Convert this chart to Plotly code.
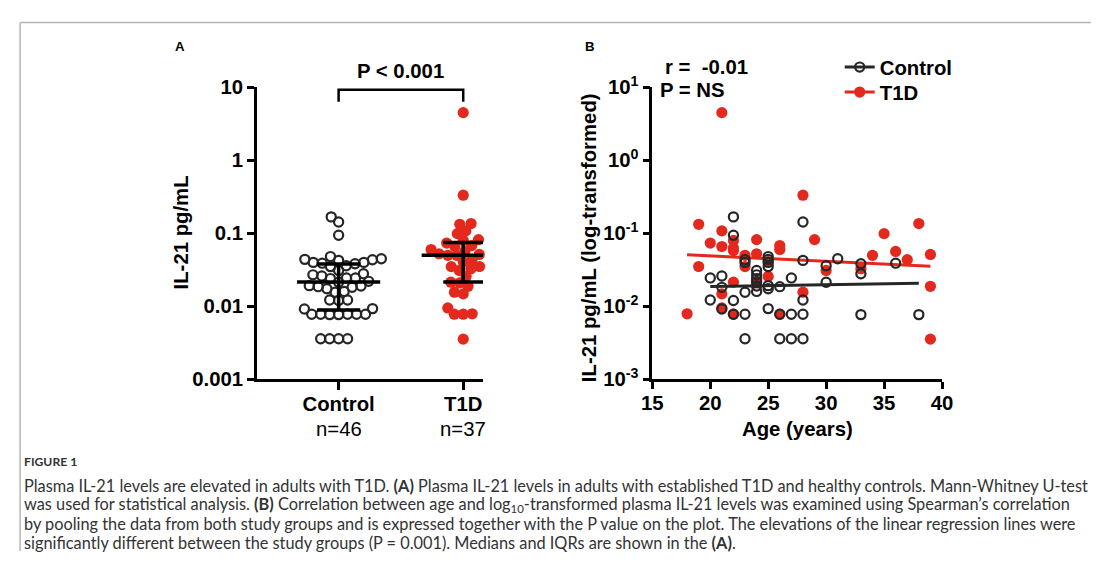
import numpy as np
import plotly.graph_objects as go

# Figure size (the page keeps the browser's 8px body margin).
BODY = 8
W, H = 1110 - 2 * BODY, 570 - 2 * BODY
# Observed mapping from page pixels to the returned picture (picture = O + S * page);
# every layout position below is written in reference-picture pixels and mapped back.
OX, OY, SX, SY = 9.5, 14.0, 0.983, 0.955

# ---------------- data ----------------
groups = ["Control", "T1D"]
group_n = [46, 37]

control_age = [20, 20, 21, 21, 21, 22, 22, 22, 22, 23, 23, 23, 23, 24, 24, 24, 24,
               25, 25, 25, 25, 25, 26, 26, 26, 27, 27, 27, 28, 28, 28, 28, 28,
               30, 30, 31, 33, 33, 33, 36, 38, 24, 25, 25, 24, 23]
control_il21 = [0.0245, 0.0122, 0.026, 0.0182, 0.0092, 0.168, 0.094, 0.012, 0.0078,
                0.0435, 0.0156, 0.0078, 0.0036, 0.031, 0.022, 0.019, 0.016,
                0.048, 0.040, 0.0192, 0.0174, 0.0093, 0.0186, 0.0078, 0.0036,
                0.0245, 0.0078, 0.0036, 0.143, 0.0426, 0.0122, 0.0078, 0.0036,
                0.036, 0.0214, 0.0449, 0.0383, 0.0279, 0.0077, 0.039, 0.0077,
                0.027, 0.044, 0.035, 0.024, 0.040]

t1d_age = [18, 19, 19, 20, 21, 21, 21, 21, 21, 22, 22, 22, 22, 22, 23, 23, 24, 24, 24,
           25, 26, 26, 26, 28, 28, 29, 30, 33, 34, 35, 36, 37, 38, 39, 39, 39, 25]
t1d_il21 = [0.0079, 0.133, 0.0351, 0.0736, 4.5, 0.108, 0.066, 0.0148, 0.0095,
            0.080, 0.063, 0.058, 0.0214, 0.0078, 0.050, 0.035, 0.082, 0.0525, 0.021,
            0.0257, 0.068, 0.060, 0.0078, 0.333, 0.0156, 0.082, 0.031, 0.0327,
            0.050, 0.099, 0.0565, 0.0435, 0.136, 0.0514, 0.0188, 0.00355, 0.041]

median_il21 = [0.0215, 0.050]
q1_il21 = [0.0089, 0.0215]
q3_il21 = [0.038, 0.075]

reg_control_age = [20, 38]
reg_control_il21 = [0.0187, 0.0207]
reg_t1d_age = [18, 39]
reg_t1d_il21 = [0.0508, 0.0355]

bracket_il21 = [6.35, 9.27]

ytick_vals = [0.001, 0.01, 0.1, 1, 10]
ytick_text_a = ["0.001", "0.01", "0.1", "1", "10"]
ytick_text_b = ["10<sup>-3</sup>", "10<sup>-2</sup>", "10<sup>-1</sup>", "10<sup>0</sup>", "10<sup>1</sup>"]
minor_mult = [2, 3, 4, 5, 6, 7, 8, 9]
minor_decades = [-3, -2, -1, 0]
xtick_vals_b = [15, 20, 25, 30, 35, 40]

caption_title = "FIGURE 1"
caption_lines = [
    "Plasma IL-21 levels are elevated in adults with T1D. <b>(A)</b> Plasma IL-21 levels in adults with established T1D and healthy controls. Mann-Whitney U-test",
    "was used for statistical analysis. <b>(B)</b> Correlation between age and log<sub>10</sub>-transformed plasma IL-21 levels was examined using Spearman\u2019s correlation",
    "by pooling the data from both study groups and is expressed together with the P value on the plot. The elevations of the linear regression lines were",
    "significantly different between the study groups (P = 0.001). Medians and IQRs are shown in the <b>(A)</b>.",
]

# ---------------- styling / layout constants ----------------
FONT = "Liberation Sans, Arial, sans-serif"
CAP_FONT = "Lato, Liberation Sans, sans-serif"
DARK = "#262626"
RED = "#e3291d"
FS = 1.0 / SX          # font / marker compensation


def xp(s):
    return ((s - OX) / SX - BODY) / W


def yp(s):
    return 1 - ((s - OY) / SY - BODY) / H


Y_TOP, Y_BOT = 87, 379
YDOM = [yp(Y_BOT), yp(Y_TOP)]
PX_DEC = (Y_BOT - Y_TOP) / 4.0

A_X0, A_X1 = 256, 483
A_C0, A_C1 = 338, 463
A_PX_UNIT = A_C1 - A_C0
A_RANGE = [-(A_C0 - A_X0) / A_PX_UNIT, 1 + (A_X1 - A_C1) / A_PX_UNIT]

B_X0, B_X1 = 652.7, 943.3


def swarm_offsets(values, d):
    y = np.log10(np.asarray(values, dtype=float)) * PX_DEC
    idx = np.argsort(y)
    px, py = [], []
    out = np.zeros(len(y))
    for i in idx:
        yi = y[i]
        cands = [0.0]
        for xj, yj in zip(px, py):
            dy = abs(yi - yj)
            if dy < d:
                dx = np.sqrt(d * d - dy * dy)
                cands += [xj - dx, xj + dx]
        cands.sort(key=lambda c: (abs(c), c))
        for c in cands:
            if all((c - xj) ** 2 + (yi - yj) ** 2 >= d * d - 1e-6 for xj, yj in zip(px, py)):
                out[i] = c
                break
        px.append(out[i])
        py.append(yi)
    return out


fig = go.Figure()

# ---------------- panel A ----------------
d_sw = 9.0
ctrl_x = 0 + swarm_offsets(control_il21, d_sw) / A_PX_UNIT
t1d_x = 1 + swarm_offsets(t1d_il21, d_sw) / A_PX_UNIT

open_marker = dict(symbol="circle-open", size=9 * FS, color=DARK, line=dict(width=2.2, color=DARK))
fill_marker = dict(symbol="circle", size=11 * FS, color=RED)

fig.add_trace(go.Scatter(x=ctrl_x, y=control_il21, mode="markers", xaxis="x", yaxis="y",
                         marker=open_marker, showlegend=False, cliponaxis=False, hoverinfo="skip"))
fig.add_trace(go.Scatter(x=t1d_x, y=t1d_il21, mode="markers", xaxis="x", yaxis="y",
                         marker=fill_marker, showlegend=False, cliponaxis=False, hoverinfo="skip"))

med_half = 41.7 / A_PX_UNIT
cap_half = [21.7 / A_PX_UNIT, 20.0 / A_PX_UNIT]
for i in range(2):
    for xs, ys in [([i - med_half, i + med_half], [median_il21[i]] * 2),
                   ([i - cap_half[i], i + cap_half[i]], [q1_il21[i]] * 2),
                   ([i - cap_half[i], i + cap_half[i]], [q3_il21[i]] * 2),
                   ([i, i], [q1_il21[i], q3_il21[i]])]:
        fig.add_trace(go.Scatter(x=xs, y=ys, mode="lines", xaxis="x", yaxis="y",
                                 line=dict(color="black", width=3.5), showlegend=False,
                                 hoverinfo="skip", cliponaxis=False))

fig.add_trace(go.Scatter(x=[0, 0, 1, 1], y=[bracket_il21[0], bracket_il21[1], bracket_il21[1], bracket_il21[0]],
                         mode="lines", xaxis="x", yaxis="y", line=dict(color="black", width=2.5),
                         showlegend=False, hoverinfo="skip"))

# ---------------- panel B ----------------
fig.add_trace(go.Scatter(x=t1d_age, y=t1d_il21, mode="markers", xaxis="x2", yaxis="y2",
                         marker=fill_marker, showlegend=False, cliponaxis=False, hoverinfo="skip"))
fig.add_trace(go.Scatter(x=reg_t1d_age, y=reg_t1d_il21, mode="lines", xaxis="x2", yaxis="y2",
                         line=dict(color=RED, width=3), showlegend=False, hoverinfo="skip"))
fig.add_trace(go.Scatter(x=control_age, y=control_il21, mode="markers", xaxis="x2", yaxis="y2",
                         marker=open_marker, showlegend=False, cliponaxis=False, hoverinfo="skip"))
fig.add_trace(go.Scatter(x=reg_control_age, y=reg_control_il21, mode="lines", xaxis="x2", yaxis="y2",
                         line=dict(color=DARK, width=3), showlegend=False, hoverinfo="skip"))

# legend entries (one legend each so their positions can be matched)
fig.add_trace(go.Scatter(x=[None], y=[None], mode="lines+markers", name="Control", xaxis="x2", yaxis="y2",
                         line=dict(color=DARK, width=3), marker=open_marker, legend="legend"))
fig.add_trace(go.Scatter(x=[None], y=[None], mode="lines+markers", name="T1D", xaxis="x2", yaxis="y2",
                         line=dict(color=RED, width=3), marker=fill_marker, legend="legend2"))

tick_font = dict(family=FONT, size=20 * FS, color="black", weight="bold")
axis_common = dict(showline=True, linewidth=2.5, linecolor="black", ticks="outside", tickwidth=2.5,
                   tickcolor="black", showgrid=False, zeroline=False, fixedrange=True, mirror=False)

annotations = []


def ann(x, y, text, size, bold=True, xanchor="center", yanchor="middle", angle=0, family=FONT, color="black"):
    annotations.append(dict(x=xp(x), y=yp(y), xref="paper", yref="paper", text=text, showarrow=False,
                            xanchor=xanchor, yanchor=yanchor, textangle=angle,
                            font=dict(family=family, size=size * FS, color=color,
                                      weight="bold" if bold else "normal")))


ann(179, 46, "A", 13)
ann(590, 46, "B", 13)
ann(400, 71, "P < 0.001", 20)
ann(180, 232, "IL-21 pg/mL", 20, angle=-90)
ann(590, 237, "IL-21 pg/mL (log-transformed)", 20, angle=-90)
ann(798, 429, "Age (years)", 20)
for i, n in enumerate(group_n):
    ann([A_C0, A_C1][i], 429, f"n={n}", 20, bold=False)
ann(663, 67, "r =  -0.01", 20, xanchor="left")
ann(658, 90, "P = NS", 20, xanchor="left")
ann(20, 461, caption_title, 12, xanchor="left", family=CAP_FONT, color="#333333")
for k, line in enumerate(caption_lines):
    ann(20, 485 + 19.2 * k, line, 16.05, bold=False, xanchor="left", family=CAP_FONT, color="#333333")

shapes = [
    dict(type="line", xref="paper", yref="paper", x0=0.001, x1=1.0, y0=0.999, y1=0.999,
         line=dict(color="#b5b5b5", width=1.5)),
    dict(type="line", xref="paper", yref="paper", x0=0.001, x1=0.001, y0=0.999, y1=0,
         line=dict(color="#b5b5b5", width=1.5)),
]

minor_vals = [m * 10.0 ** e for e in minor_decades for m in minor_mult]

legend_common = dict(xanchor="left", yanchor="middle", bgcolor="rgba(0,0,0,0)",
                     font=dict(family=FONT, size=20 * FS, color="black", weight="bold"), itemwidth=30)
LEG_TEXT_X = 880

fig.update_layout(
    width=W, height=H, autosize=False,
    margin=dict(l=0, r=0, t=0, b=0),
    paper_bgcolor="white", plot_bgcolor="white",
    font=dict(family=FONT, color="black"),
    xaxis=dict(domain=[xp(A_X0), xp(A_X1)], range=A_RANGE, anchor="y",
               tickvals=[0, 1], ticktext=groups,
               tickfont=tick_font, ticklen=8, ticklabelstandoff=-3,
               **axis_common),
    yaxis=dict(domain=YDOM, type="log", range=[-3, 1], anchor="x",
               tickvals=ytick_vals, ticktext=ytick_text_a, tickfont=tick_font, ticklen=7,
               ticklabelstandoff=0, **axis_common),
    yaxis3=dict(type="log", range=[-3, 1], overlaying="y", anchor="x", side="left",
                tickvals=minor_vals, ticks="outside", ticklen=4, tickwidth=1.5, tickcolor="black",
                showticklabels=False, showline=False, showgrid=False, zeroline=False, fixedrange=True),
    xaxis2=dict(domain=[xp(B_X0), xp(B_X1)], range=[15, 40], anchor="y2",
                tickvals=xtick_vals_b, tickfont=tick_font, ticklen=7, ticklabelstandoff=-3,
                **axis_common),
    yaxis2=dict(domain=YDOM, type="log", range=[-3, 1], anchor="x2",
                tickvals=ytick_vals, ticktext=ytick_text_b, tickfont=tick_font, ticklen=7,
                ticklabelstandoff=0, **axis_common),
    legend=dict(x=xp(LEG_TEXT_X) - 40 / W, y=yp(67), **legend_common),
    legend2=dict(x=xp(LEG_TEXT_X) - 40 / W, y=yp(92), **legend_common),
    annotations=annotations,
    shapes=shapes,
)

fig.write_html("out.html", config={"displayModeBar": False})
